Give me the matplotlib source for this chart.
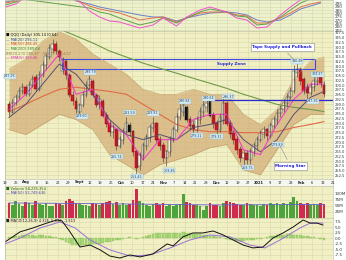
import matplotlib
matplotlib.use("Agg")
import matplotlib.pyplot as plt
import numpy as np

# ---- candles (price panel) ----
opens = [289.9, 286.1, 290.4, 293.6, 296.7, 298.9, 295.2, 299.9, 304.2, 297.8,
         305.2, 310.5, 314.8, 319.0, 321.1, 317.9, 307.3, 312.6, 305.2, 294.6,
         291.4, 286.1, 289.3, 294.6, 299.9, 302.0, 294.6, 290.4, 291.4, 284.0,
         279.8, 275.5, 276.6, 268.1, 271.3, 275.5, 278.7, 275.5, 264.9, 257.5,
         262.8, 268.1, 272.4, 277.7, 279.8, 271.3, 268.1, 261.8, 264.9, 271.3,
         276.6, 283.0, 286.1, 288.3, 281.9, 278.7, 276.6, 281.9, 286.1, 288.3,
         292.5, 284.0, 279.8, 276.6, 281.9, 290.4, 279.8, 274.5, 271.3, 266.0,
         261.8, 263.9, 260.7, 264.9, 268.1, 271.3, 274.5, 276.6, 273.4, 278.7,
         281.9, 285.1, 287.2, 290.4, 293.6, 296.7, 306.3, 308.4, 303.1, 298.9,
         295.7, 298.9, 302.0, 304.2, 299.9]
highs = [291.4, 292.5, 295.2, 298.9, 301.0, 299.9, 302.0, 305.2, 305.8, 307.3,
         312.6, 316.9, 321.6, 324.3, 323.2, 319.0, 314.8, 313.7, 306.3, 296.7,
         293.6, 290.4, 296.7, 302.0, 305.2, 303.1, 295.7, 294.6, 292.5, 286.1,
         281.9, 279.8, 277.7, 273.4, 277.7, 283.0, 280.8, 276.6, 266.0, 264.9,
         270.2, 274.5, 279.8, 283.0, 280.8, 273.4, 270.2, 266.0, 273.4, 278.7,
         285.1, 290.4, 291.4, 289.3, 284.0, 281.9, 284.0, 288.3, 292.5, 293.6,
         293.6, 286.1, 281.9, 285.1, 293.6, 291.4, 281.9, 276.6, 273.4, 268.1,
         266.0, 266.0, 267.1, 270.2, 273.4, 276.6, 278.7, 277.7, 280.8, 284.0,
         287.2, 289.3, 292.5, 295.7, 298.9, 310.5, 311.6, 309.4, 304.2, 301.0,
         301.0, 304.2, 307.3, 306.3, 302.0]
lows = [284.0, 285.1, 289.4, 292.5, 295.2, 294.1, 294.1, 298.9, 296.7, 296.7,
        304.2, 308.4, 313.7, 316.9, 316.4, 312.6, 305.8, 303.1, 293.6, 289.4,
        285.6, 284.0, 288.3, 293.6, 297.8, 293.6, 288.3, 287.2, 283.0, 278.2,
        273.4, 272.4, 266.0, 267.1, 269.2, 274.5, 273.4, 262.8, 253.3, 255.4,
        260.7, 266.0, 270.2, 275.5, 270.2, 266.0, 259.6, 257.5, 262.8, 270.2,
        275.5, 281.9, 284.0, 280.8, 276.6, 273.4, 275.5, 279.8, 284.0, 286.1,
        283.0, 277.7, 274.5, 275.5, 279.8, 278.7, 272.4, 269.2, 263.9, 259.6,
        257.5, 258.6, 258.6, 262.8, 266.0, 270.2, 272.4, 271.3, 272.4, 277.7,
        279.8, 283.0, 286.1, 288.3, 292.5, 295.7, 304.2, 299.9, 295.2, 292.5,
        294.6, 296.7, 299.9, 298.9, 293.6]
closes = [286.1, 290.4, 293.6, 296.7, 298.9, 295.2, 299.9, 303.1, 297.8, 305.2,
          310.5, 314.8, 319.0, 321.1, 317.9, 314.8, 313.7, 305.2, 294.6, 291.4,
          287.2, 289.3, 294.6, 299.9, 303.1, 294.6, 289.3, 292.5, 284.0, 279.8,
          275.5, 277.7, 268.1, 271.3, 275.5, 279.8, 275.5, 264.9, 256.5, 262.8,
          268.1, 272.4, 277.7, 279.8, 271.3, 268.1, 261.8, 264.9, 271.3, 276.6,
          283.0, 287.2, 289.3, 281.9, 278.7, 276.6, 281.9, 286.1, 289.3, 290.4,
          284.0, 279.8, 276.6, 283.0, 290.4, 279.8, 274.5, 271.3, 266.0, 261.8,
          263.9, 260.7, 264.9, 268.1, 271.3, 274.5, 276.6, 273.4, 278.7, 281.9,
          285.1, 287.2, 290.4, 293.6, 296.7, 307.3, 308.4, 302.0, 296.7, 295.7,
          298.9, 302.0, 305.2, 300.9, 295.2]
black_idx = [36, 53, 60]

# ---- overlays, sampled every 5 bars ----
ov_x = [0, 5, 10, 15, 20, 25, 30, 35, 40, 45, 50, 55, 60, 65, 70, 75, 80, 85, 90, 94]
ma20 = [283.0, 289.9, 300.5, 311.1, 305.8, 295.2, 281.9, 274.0, 271.3, 274.0,
        271.3, 277.7, 279.3, 281.9, 271.3, 264.9, 271.3, 284.6, 293.6, 296.7]
ema5 = [287.2, 295.2, 305.8, 316.4, 295.2, 297.8, 279.3, 274.0, 260.7, 271.3,
        271.3, 281.9, 284.6, 284.6, 266.0, 263.4, 279.3, 292.5, 300.5, 300.5]
ma50 = [286.1, 289.9, 294.1, 297.8, 298.9, 297.8, 296.7, 295.2, 289.9, 284.6,
        279.3, 276.6, 275.5, 275.5, 275.0, 275.0, 275.5, 277.7, 279.3, 280.8]
bb_up = [308.4, 313.7, 323.2, 328.0, 324.3, 316.4, 311.1, 305.8, 297.8, 295.2,
         295.2, 297.8, 295.2, 295.2, 284.6, 279.3, 287.2, 303.1, 312.6, 314.8]
bb_lo = [276.6, 274.0, 279.3, 284.6, 281.9, 276.6, 263.4, 258.1, 252.8, 258.1,
         260.7, 263.4, 267.1, 268.7, 255.4, 252.8, 266.0, 279.3, 284.6, 284.6]
ma200_x = [10, 15, 20, 25, 30, 35, 40, 45, 50, 55, 60, 65, 70, 75, 80, 85, 90, 94]
ma200 = [332.3, 329.6, 325.9, 322.2, 318.0, 314.8, 311.6, 308.9, 306.3, 303.6,
         301.0, 298.3, 295.2, 292.5, 289.9, 288.3, 287.2, 286.1]

# price labels (bar position, price, text)
lbl_x = [0.3, 21.8, 24.2, 32.2, 36.1, 38.2, 43.0, 47.8, 52.5, 56.1, 59.5, 62.0, 65.4, 71.3, 80.3, 86.0, 90.7, 92.1]
lbl_y = [304.7, 283.5, 306.8, 262.3, 285.6, 251.7, 285.1, 254.9, 291.5, 273.4, 293.0, 272.9, 293.9, 256.5, 268.7, 312.6, 291.5, 305.7]
lbl_t = ["297.26", "289.60", "299.79", "265.74", "283.59", "253.45", "283.82", "259.46", "290.84",
         "279.21", "290.64", "279.31", "296.37", "269.75", "279.89", "310.48", "297.36", "309.27"]

# ---- top panel lines ----
top_x = [-1, 2, 5, 9, 15, 20, 24, 27, 30, 33, 39, 43, 46, 50, 53, 57, 60, 65, 68, 71, 74, 77, 81, 84, 87, 90, 93]
top_pink = [289.5, 294, 304.5, 312, 312, 303, 283.5, 274.5, 268.5, 267, 258, 262.5, 273, 261, 274.5,
            285, 289.5, 282, 273, 270, 258, 259.5, 277.5, 289.5, 300, 307.5, 312]
top_green = [292.5, 297, 304.5, 312, 312, 301.5, 288, 282, 279, 273, 262.5, 267, 273, 265.5, 273,
             282, 286.5, 282, 276, 274.5, 262.5, 264, 274.5, 285, 295.5, 301.5, 306]
top_red = [295.5, 298.5, 304.5, 312, 312, 300, 291, 286.5, 283.5, 280.5, 270, 273, 274.5, 267, 273,
           280.5, 282, 282, 277.5, 276, 265.5, 265.5, 273, 280.5, 289.5, 294, 297]
top_blue = [297, 300, 304.5, 312, 312, 298.5, 294, 289.5, 286.5, 283.5, 277.5, 274.5, 274.5, 268.5, 273,
            277.5, 280.5, 282, 280.5, 277.5, 270, 267, 270, 277.5, 286.5, 291, 295.5]

# ---- volume (millions) ----
volume_m = [62, 55, 70, 58, 50, 65, 60, 52, 72, 58, 55, 62, 48, 50, 60, 58, 55, 70, 80, 72,
            60, 58, 52, 55, 50, 62, 58, 55, 60, 65, 70, 58, 68, 55, 60, 52, 58, 75, 118, 72,
            60, 55, 50, 58, 62, 55, 60, 50, 52, 48, 55, 58, 100, 65, 62, 55, 52, 48, 35, 50,
            60, 55, 52, 50, 62, 72, 65, 60, 58, 55, 52, 60, 58, 55, 52, 50, 58, 55, 60, 58,
            62, 55, 60, 58, 65, 85, 72, 62, 58, 60, 55, 58, 52, 60, 58]
vol_ma_x = [0, 20, 40, 60, 80, 94]
vol_ma = [62, 60, 57, 54, 55, 56]

# ---- MACD ----
macd_x = [-1.2, 3.3, 7.2, 11.3, 14.3, 15.8, 18.2, 21.2, 24.2, 27.2, 30.1, 33.1, 36.1, 39.1, 43.0, 47.2, 49.0,
          51.9, 54.9, 57.9, 60.9, 63.9, 66.9, 69.9, 72.8, 75.8, 78.8, 81.8, 84.8, 87.8, 89.9, 91.9, 93.7]
macd = [-1.6, 3.0, 4.8, 7.0, 8.4, 8.0, 3.0, -3.9, -3.0, -5.2, -8.0, -8.9, -7.5, -8.4, -7.0, -2.5, -3.4,
        0.7, 2.5, 2.5, 3.4, 1.6, -0.7, -3.0, -4.3, -3.9, 0.2, 2.5, 5.2, 8.4, 7.0, 7.0, 6.1]
sig_x = [-1.2, 3.3, 9.3, 15.2, 19.7, 24.2, 30.1, 36.1, 42.1, 48.1, 54.0, 60.0, 66.0, 71.9, 76.4, 80.9, 86.9, 89.9, 93.7]
signal = [-2.5, 0.2, 4.8, 7.5, 4.8, -0.7, -5.2, -8.0, -7.5, -4.3, -0.7, 1.6, 0.7, -3.0, -4.3, -0.7, 4.8, 7.0, 7.0]
hist = [0.5, 0.8, 1.0, 1.2, 1.4, 1.5, 1.5, 1.4, 1.3, 1.4, 1.5, 1.3, 1.0, 0.8, 0.6,
        -0.2, -0.8, -1.5, -2.2, -2.8, -3.2, -3.4, -3.2, -3.0, -2.8, -2.6, -2.5, -2.3, -2.0, -1.8, -1.5, -1.2, -0.8,
        -0.5, -0.3, 0.2, 0.5, 0.3,
        -0.2, 0.3, 0.8, 1.2, 1.6, 2.0, 2.3, 2.5, 2.6, 2.6, 2.5, 2.4,
        2.6, 2.7, 2.8, 2.6, 2.4, 2.2, 2.0, 1.8, 1.6, 1.4, 1.2, 1.0, 0.8, 0.6,
        0.3, -0.2, -0.5, -0.8, -1.0, -1.1, -1.0, -0.9, -0.8, -0.6, -0.4, -0.2, 0.2,
        0.6, 1.0, 1.3, 1.5, 1.6, 1.7, 1.8, 1.8, 1.7, 1.6, 1.4, 1.2, 1.0, 0.8, 0.5, 0.2, -0.2, -0.5]

date_labels = ["19", "26", "Aug", "8", "15", "22", "29", "Sept", "12", "19", "26", "Oct", "10", "17", "24",
               "Nov", "7", "14", "21", "28", "Dec", "12", "19", "27", "2021", "9", "17", "23", "Feb",
               "6", "13", "21"]

BG = "#F1EFC4"
GRID = "#D8D8A8"
FS = 3.0

fig = plt.figure(figsize=(3.46, 2.6), dpi=100)
XL, XW = 5 / 346, 328 / 346
week_pos = -1.19 + 3.158 * np.arange(len(date_labels))


def panel(top_px, bot_px, bg=BG):
    ax = fig.add_axes([XL, 1 - bot_px / 260, XW, (bot_px - top_px) / 260])
    ax.set_facecolor(bg)
    ax.set_xlim(-1.2, 96.7)
    ax.set_xticks(week_pos)
    ax.tick_params(axis="x", length=0, labelbottom=False)
    ax.yaxis.tick_right()
    ax.tick_params(axis="y", length=0, labelsize=FS, pad=1, colors="#333333")
    ax.grid(True, color=GRID, linewidth=0.4)
    ax.set_axisbelow(True)
    for s in ax.spines.values():
        s.set_color("#B8B8A0")
        s.set_linewidth(0.4)
    return ax


# top panel
ax0 = panel(0, 31, "#EDF1CE")
ax0.set_ylim(253.5, 300)
ax0.set_yticks(np.arange(255, 300, 5))
ax0.set_yticklabels([f"{v:.0f}" for v in np.arange(255, 300, 5)])
ax0.plot(top_x, top_blue, color="#6A7FC8", lw=0.7)
ax0.plot(top_x, top_red, color="#E0704A", lw=0.7)
ax0.plot(top_x, top_green, color="#5FA04A", lw=0.7)
ax0.plot(top_x, top_pink, color="#F050D0", lw=0.7)

# price panel
ax1 = panel(31, 179)
ax1.set_ylim(250.6, 328.5)
pt = np.arange(252.5, 328, 2.5)
ax1.set_yticks(pt)
ax1.set_yticklabels([f"{v:.1f}" for v in pt])
ax1.tick_params(axis="y", labelsize=2.6)
ax1.fill_between(ov_x, bb_lo, bb_up, color="#D2AD76", alpha=0.7, lw=0)
ax1.plot(ov_x, bb_up, color="#C29C66", lw=0.4)
ax1.plot(ov_x, bb_lo, color="#C29C66", lw=0.4)
ax1.plot(ma200_x, ma200, color="#6E9A48", lw=0.8)
ax1.plot(ov_x, ma50, color="#E06A48", lw=0.8)
ax1.plot(ov_x, ma20, color="#5A5070", lw=0.7)
ax1.plot(ov_x, ema5, color="#F040C8", lw=0.8)

idx = np.arange(len(closes))
ax1.vlines(idx, lows, highs, color="#444444", lw=0.45)
for i in idx:
    o, c = opens[i], closes[i]
    if c >= o:
        fc, ec = "#F6EFD8", "#444444"
    elif i in black_idx:
        fc, ec = "#111111", "#111111"
    else:
        fc, ec = "#E8101C", "#A00010"
    ax1.bar(i, abs(c - o) + 0.3, bottom=min(o, c), width=0.85, color=fc, edgecolor=ec, lw=0.35)

# supply zone + resistance
ax1.add_patch(plt.Rectangle((15.8, 308.4), 75.5, 5.3, fill=False, ec="#3F49E0", lw=0.8))
ax1.text(66.5, 311.0, "Supply Zone", color="#2A2AD0", fontsize=FS, ha="center", va="center", fontweight="bold")
ax1.hlines(292.0, 58.5, 96.7, color="#2A2AD0", lw=0.9)

for x, y, t in zip(lbl_x, lbl_y, lbl_t):
    ax1.text(x, y, t, fontsize=2.3, ha="center", va="center", color="#224466",
             bbox=dict(boxstyle="square,pad=0.15", fc="#D5ECF2", ec="#9BB8C8", lw=0.3))

ax1.annotate("Tape Supply and Pullback", xy=(86.0, 311.5), xytext=(81.5, 320.0), fontsize=FS,
             color="#2020D0", fontweight="bold", ha="center", va="center",
             bbox=dict(boxstyle="square,pad=0.4", fc="white", ec="#888888", lw=0.4),
             arrowprops=dict(arrowstyle="-", color="#888888", lw=0.4))
ax1.annotate("Morning Star", xy=(80.5, 269.5), xytext=(84.0, 257.5), fontsize=FS,
             color="#2020D0", fontweight="bold", ha="center", va="center",
             bbox=dict(boxstyle="square,pad=0.4", fc="white", ec="#888888", lw=0.4),
             arrowprops=dict(arrowstyle="-", color="#888888", lw=0.4))

leg = [("\u25A0 QQQ (Daily) 305.14 (0.64)", "#111111"),
       ("\u2014 MA(20) 296.11", "#334499"),
       ("\u2014 MA(50) 286.45", "#D04020"),
       ("\u2014 MA(200) 289.68", "#3C8A30"),
       ("BB(20,2.0) 285.87 - 300.77 - 314.67", "#9A7A50"),
       ("\u2014 EMA(5) 303.46", "#E030C0")]
for k, (t, c) in enumerate(leg):
    ax1.text(0.004, 0.985 - k * 0.031, t, transform=ax1.transAxes, fontsize=2.6, color=c, va="top")

# date strip
axd = fig.add_axes([XL, 1 - 186 / 260, XW, 7 / 260])
axd.set_facecolor("#F7F7F2")
axd.set_xlim(-1.2, 96.7)
axd.set_ylim(0, 1)
axd.set_xticks([])
axd.set_yticks([])
for s in axd.spines.values():
    s.set_color("#B8B8A0")
    s.set_linewidth(0.4)
for x, t in zip(week_pos, date_labels):
    bold = not t.isdigit() or t == "2021"
    axd.text(x, 0.5, t, fontsize=2.6, ha="center", va="center", color="#222222",
             fontweight="bold" if bold else "normal")

# volume
ax2 = panel(186, 218)
ax2.set_ylim(0, 132)
ax2.set_yticks([25, 50, 75, 100])
ax2.set_yticklabels(["25M", "50M", "75M", "100M"])
vcol = ["#4EA43C" if closes[i] >= opens[i] else "#D02A50" for i in idx]
ax2.bar(idx, volume_m, width=0.8, color=vcol, lw=0)
ax2.plot(vol_ma_x, vol_ma, color="#6060D0", lw=0.6)
ax2.text(0.004, 0.97, "\u25A0 Volume 58,235,354", transform=ax2.transAxes, fontsize=2.6, color="#226622", va="top")
ax2.text(0.004, 0.84, "\u2014 MA(50) 52,749,636", transform=ax2.transAxes, fontsize=2.6, color="#4040B0", va="top")

# MACD
ax3 = panel(218, 260)
ax3.set_ylim(-9.8, 9.3)
mt = [-7.5, -5.0, -2.5, 0.0, 2.5, 5.0, 7.5]
ax3.set_yticks(mt)
ax3.set_yticklabels([f"{v:.1f}" for v in mt])
ax3.bar(idx, hist, width=0.8, color="#A8D878", edgecolor="#78B048", lw=0.2)
ax3.plot(sig_x, signal, color="#9A70D8", lw=0.7)
ax3.plot(macd_x, macd, color="#111111", lw=0.7)
ax3.text(0.004, 0.97, "\u25A0 MACD(12,26,9) 4.326, 5.839, -1.513", transform=ax3.transAxes,
         fontsize=2.6, color="#222222", va="top")

fig.savefig("out.png", dpi=100, facecolor="white")
